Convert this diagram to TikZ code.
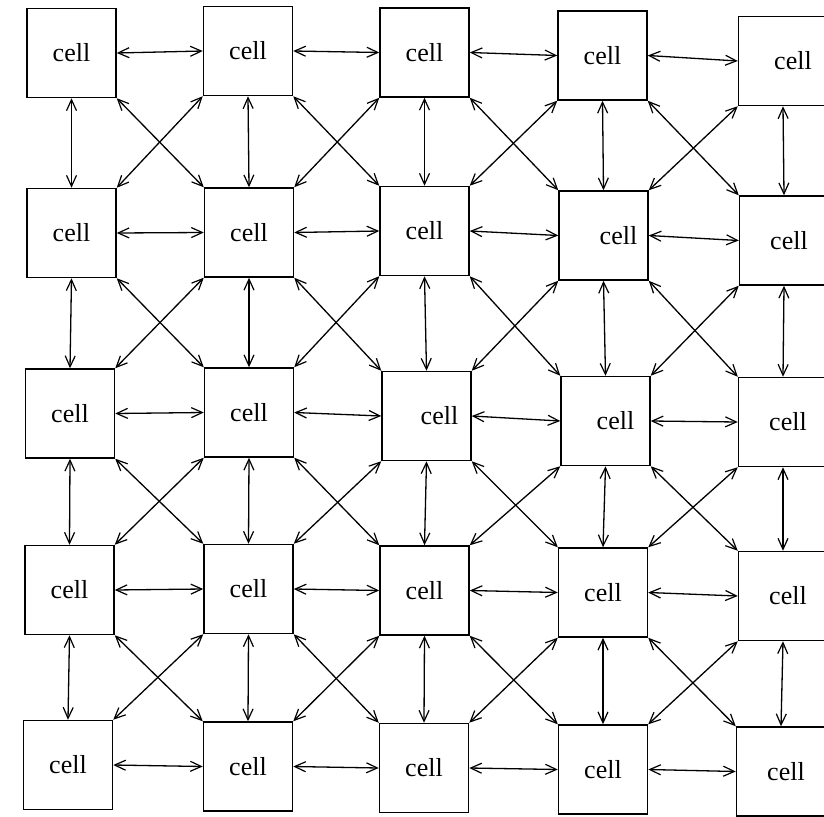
\documentclass[tikz,border=0pt]{standalone}
\usepackage{fontspec}
\setmainfont{Liberation Serif}
\usetikzlibrary{arrows.meta}
\begin{document}
\begin{tikzpicture}[x=1pt,y=-1pt,
  cellbox/.style={draw,line width=1.5pt,minimum width=89pt,minimum height=89pt,inner sep=0pt,font=\fontsize{26}{28}\selectfont},
  link/.style={line width=1.3pt,{Straight Barb[length=11pt,width=10pt,line width=1.2pt]}-{Straight Barb[length=11pt,width=10pt,line width=1.2pt]}}]
\useasboundingbox (0,0) rectangle (824,816);
\node[cellbox] (c11) at (71.5,53) {cell};
\node[cellbox] (c12) at (248,51) {cell};
\node[cellbox] (c13) at (424.5,52.5) {cell};
\node[cellbox] (c14) at (602.5,55.5) {cell};
\node[cellbox] (c15) at (783,61) {\hspace{20pt}cell};
\node[cellbox] (c21) at (71.5,233) {cell};
\node[cellbox] (c22) at (249,232.5) {cell};
\node[cellbox] (c23) at (424.5,231) {cell};
\node[cellbox] (c24) at (603.5,235.5) {\hspace{30pt}cell};
\node[cellbox] (c25) at (784,240.5) {\hspace{10pt}cell};
\node[cellbox] (c31) at (70,413.5) {cell};
\node[cellbox] (c32) at (249,412.5) {cell};
\node[cellbox] (c33) at (426.5,416) {\hspace{26pt}cell};
\node[cellbox] (c34) at (605.5,421) {\hspace{20pt}cell};
\node[cellbox] (c35) at (783,422) {\hspace{10pt}cell};
\node[cellbox] (c41) at (69.5,590) {cell};
\node[cellbox] (c42) at (248.5,589) {cell};
\node[cellbox] (c43) at (424.5,590.5) {cell};
\node[cellbox] (c44) at (603,592.5) {cell};
\node[cellbox] (c45) at (783,596) {\hspace{10pt}cell};
\node[cellbox] (c51) at (68,765) {cell};
\node[cellbox] (c52) at (248,766.5) {cell};
\node[cellbox] (c53) at (424,768) {cell};
\node[cellbox] (c54) at (603,769.5) {cell};
\node[cellbox] (c55) at (781,771.5) {\hspace{10pt}cell};
% horizontal
\foreach \r in {1,...,5}{
  \foreach \c [evaluate=\c as \n using int(\c+1)] in {1,...,4}{
    \draw[link] (c\r\c.east) -- (c\r\n.west);
  }
}
% vertical
\foreach \r [evaluate=\r as \m using int(\r+1)] in {1,...,4}{
  \foreach \c in {1,...,5}{
    \draw[link] (c\r\c.south) -- (c\m\c.north);
  }
}
% diagonals
\foreach \r [evaluate=\r as \m using int(\r+1)] in {1,...,4}{
  \foreach \c [evaluate=\c as \n using int(\c+1)] in {1,...,4}{
    \draw[link] (c\r\c.south east) -- (c\m\n.north west);
    \draw[link] (c\r\n.south west) -- (c\m\c.north east);
  }
}
\end{tikzpicture}
\end{document}
